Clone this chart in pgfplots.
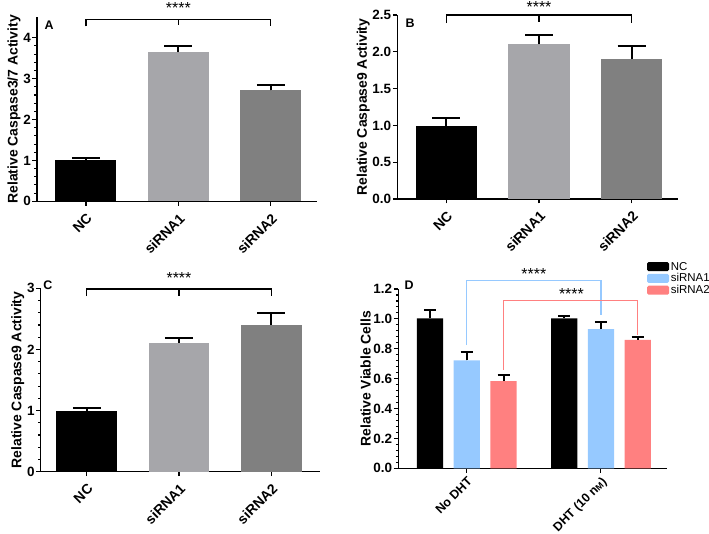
\documentclass[border=0pt]{standalone}
\usepackage{fontspec}
\setmainfont{Liberation Sans}
\usepackage{pgfplots}
\pgfplotsset{compat=1.18}
\definecolor{g1}{RGB}{166,166,170}
\definecolor{g2}{RGB}{128,128,128}
\definecolor{lblue}{RGB}{150,201,255}
\definecolor{lred}{RGB}{255,128,128}
\pgfplotsset{
 panel/.style={
  scale only axis, clip=false,
  axis lines*=left, axis line style={line width=1.2bp,-},
  tick style={line width=1.1bp, black}, tick align=outside,
  major tick length=4.5bp, minor tick length=2.5bp,
  /pgf/number format/assume math mode=true,
  yticklabel style={font=\fontsize{13.5}{14}\selectfont\bfseries, inner sep=1.5bp},
  xticklabel style={font=\fontsize{14}{15}\selectfont\bfseries, rotate=45, anchor=north east, inner sep=1bp},
  xticklabel shift=5bp,
  ylabel style={font=\fontsize{14}{15}\selectfont\bfseries, inner sep=1bp},
  ybar, bar shift=0pt, ymin=0,
  error bars/y dir=plus, error bars/y explicit,
  error bars/error bar style={line width=2bp, black},
  error bars/error mark options={rotate=90, mark size=14bp, line width=2bp, black},
 },
 bar3/.style={xmin=-0.53, xmax=2.5, xtick={0,1,2}, xticklabels={NC,siRNA1,siRNA2}, bar width=0.66},
}
\begin{document}
\begin{tikzpicture}
\useasboundingbox (0,0) rectangle (709bp,534bp);
% Panel A
\begin{axis}[panel, bar3, at={(37bp,332.7bp)}, anchor=south west, width=280bp, height=184bp,
  ymax=4.5, ytick={0,1,2,3,4}, minor y tick num=4,
  ylabel={Relative Caspase3/7 Activity}]
\addplot[fill=black, draw=none] coordinates {(0,1.0) +- (0,0.06)};
\addplot[fill=g1, draw=none] coordinates {(1,3.64) +- (0,0.15)};
\addplot[fill=g2, draw=none] coordinates {(2,2.71) +- (0,0.14)};
\draw[line width=1.2bp] (axis cs:0,4.28) -- (axis cs:0,4.45) -- (axis cs:2,4.45) -- (axis cs:2,4.28);
\draw[line width=1.2bp] (axis cs:1,4.45) -- (axis cs:1,4.30);
\node[font=\fontsize{16}{16}\selectfont] at (axis cs:1,4.72) {****};
\node[font=\fontsize{12.5}{12.5}\selectfont\bfseries] at (rel axis cs:0.043,0.957) {A};
\end{axis}
% Panel B
\begin{axis}[panel, bar3, at={(397.3bp,335bp)}, anchor=south west, width=280.7bp, height=184bp,
  ymax=2.5, ytick={0,0.5,1,1.5,2,2.5},
  yticklabel={\pgfmathprintnumber[fixed,fixed zerofill,precision=1]{\tick}},
  ylabel={Relative Caspase9 Activity}]
\addplot[fill=black, draw=none] coordinates {(0,0.99) +- (0,0.11)};
\addplot[fill=g1, draw=none] coordinates {(1,2.10) +- (0,0.13)};
\addplot[fill=g2, draw=none] coordinates {(2,1.90) +- (0,0.18)};
\draw[line width=1.2bp] (axis cs:0,2.39) -- (axis cs:0,2.5) -- (axis cs:2,2.5) -- (axis cs:2,2.39);
\draw[line width=1.2bp] (axis cs:1,2.5) -- (axis cs:1,2.40);
\node[font=\fontsize{16}{16}\selectfont] at (axis cs:1,2.615) {****};
\node[font=\fontsize{12.5}{12.5}\selectfont\bfseries] at (rel axis cs:0.046,0.957) {B};
\end{axis}
% Panel C
\begin{axis}[panel, bar3, at={(40.7bp,62.3bp)}, anchor=south west, width=279.3bp, height=183.4bp,
  xmin=-0.5, xmax=2.53,
  ymax=3, ytick={0,1,2,3}, minor y tick num=4,
  ylabel={Relative Caspase9 Activity}]
\addplot[fill=black, draw=none] coordinates {(0,0.99) +- (0,0.05)};
\addplot[fill=g1, draw=none] coordinates {(1,2.11) +- (0,0.08)};
\addplot[fill=g2, draw=none] coordinates {(2,2.40) +- (0,0.20)};
\draw[line width=1.2bp] (axis cs:0,2.87) -- (axis cs:0,2.99) -- (axis cs:2,2.99) -- (axis cs:2,2.87);
\draw[line width=1.2bp] (axis cs:1,2.99) -- (axis cs:1,2.88);
\node[font=\fontsize{16}{16}\selectfont] at (axis cs:1,3.17) {****};
\node[font=\fontsize{12.5}{12.5}\selectfont\bfseries] at (rel axis cs:0.026,1.018) {C};
\end{axis}
% Panel D
\begin{axis}[panel, at={(398.3bp,65.7bp)}, anchor=south west, width=268.4bp, height=179.3bp,
  xmin=-0.51, xmax=1.49, xtick={0,1}, xticklabels={No DHT,{DHT (10 n{\fontsize{9}{9}\selectfont M})}},
  xticklabel style={font=\fontsize{12.5}{13}\selectfont\bfseries},
  xticklabel shift=2bp,
  ymax=1.2, ytick={0,0.2,0.4,0.6,0.8,1.0,1.2}, minor y tick num=4,
  yticklabel={\pgfmathprintnumber[fixed,fixed zerofill,precision=1]{\tick}},
  ylabel={Relative Viable Cells}, bar width=0.196,
  error bars/error mark options={rotate=90, mark size=6bp, line width=2bp, black},
  legend style={at={(rel axis cs:0.915,1.165)}, anchor=north west, draw=none, fill=none,
    font=\fontsize{11.5}{11.5}\selectfont, row sep=1.8bp,
    nodes={inner ysep=0.5bp, inner xsep=1.8bp, text height=8bp, text depth=1bp}},
  legend cell align=left,
  legend image code/.code={\fill[#1, rounded corners=1.5bp] (0bp,-4.5bp) rectangle (22bp,4.5bp);}]
\addplot[fill=black, draw=none] coordinates {(-0.274,1.004) +- (0,0.056) (0.726,1.004) +- (0,0.016)};
\addplot[fill=lblue, draw=none] coordinates {(0,0.723) +- (0,0.053) (1,0.932) +- (0,0.045)};
\addplot[fill=lred, draw=none] coordinates {(0.274,0.584) +- (0,0.038) (1.274,0.859) +- (0,0.018)};
\legend{NC,siRNA1,siRNA2}
\draw[lblue, line width=1.2bp] (axis cs:0,0.825) -- (axis cs:0,1.256) -- (axis cs:1,1.256) -- (axis cs:1,1.026);
\draw[lred, line width=1.2bp] (axis cs:0.274,0.658) -- (axis cs:0.274,1.124) -- (axis cs:1.274,1.124) -- (axis cs:1.274,0.892);
\node[font=\fontsize{16}{16}\selectfont] at (axis cs:0.5,1.30) {****};
\node[font=\fontsize{16}{16}\selectfont] at (axis cs:0.78,1.165) {****};
\node[font=\fontsize{12.5}{12.5}\selectfont\bfseries] at (rel axis cs:0.04,1.022) {D};
\end{axis}
\end{tikzpicture}
\end{document}
